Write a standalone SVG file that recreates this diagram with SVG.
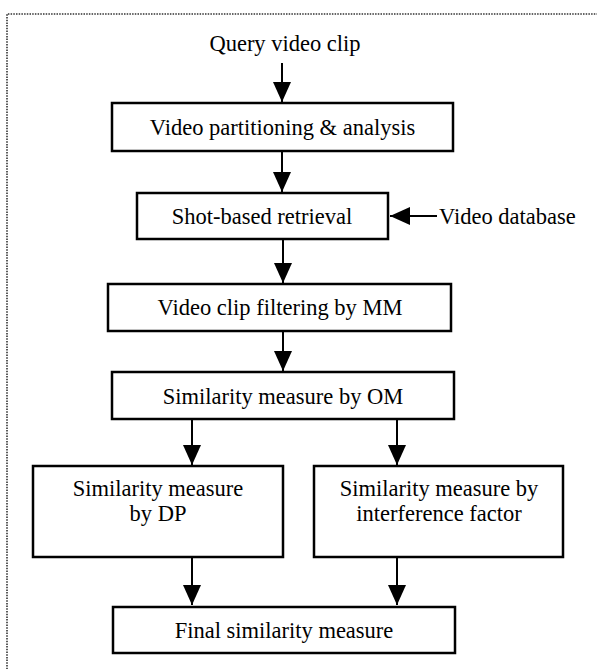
<svg xmlns="http://www.w3.org/2000/svg" width="597" height="669" viewBox="0 0 597 669">
<defs>
<style>
.box{fill:#fff;stroke:#000;stroke-width:2.5}
.t{font-family:"Liberation Serif","Times New Roman",serif;font-size:22.5px;fill:#000;text-anchor:middle}
.c{stroke:#000;stroke-width:2;fill:none;marker-end:url(#ah)}
.frame{fill:none;stroke:#333;stroke-width:1.6;stroke-dasharray:1.5 1.2}
</style>
<marker id="ah" markerUnits="userSpaceOnUse" markerWidth="20" markerHeight="18" refX="20" refY="9" orient="auto">
<path d="M0,0 L20,9 L0,18 z" fill="#000"/>
</marker>
</defs>
<rect width="597" height="669" fill="#fff"/>
<path class="frame" d="M7,680 L7,14 L600,14"/>
<g id="query"><text class="t" x="285" y="51">Query video clip</text></g>
<g id="n1"><rect class="box" x="112" y="103" width="341" height="48"/><text class="t" x="282.5" y="135">Video partitioning &amp; analysis</text></g>
<g id="n2"><rect class="box" x="137" y="193" width="251" height="46"/><text class="t" x="262" y="224">Shot-based retrieval</text></g>
<g id="db"><text class="t" x="439" y="224" style="text-anchor:start">Video database</text></g>
<g id="n3"><rect class="box" x="108" y="284" width="343" height="47"/><text class="t" x="280" y="315">Video clip filtering by MM</text></g>
<g id="n4"><rect class="box" x="112" y="372" width="342" height="47"/><text class="t" x="283" y="404">Similarity measure by OM</text></g>
<g id="n5"><rect class="box" x="33" y="466" width="250" height="91"/><text class="t" x="158" y="496">Similarity measure</text><text class="t" x="158" y="521">by DP</text></g>
<g id="n6"><rect class="box" x="314" y="466" width="249" height="91"/><text class="t" x="439" y="496">Similarity measure by</text><text class="t" x="439" y="521">interference factor</text></g>
<g id="n7"><rect class="box" x="113" y="607" width="342" height="46"/><text class="t" x="284" y="638">Final similarity measure</text></g>
<g id="connectors">
<line class="c" x1="282" y1="63" x2="282" y2="102"/>
<line class="c" x1="282" y1="151" x2="282" y2="192"/>
<line class="c" x1="437" y1="216" x2="390" y2="216"/>
<line class="c" x1="283" y1="239" x2="283" y2="283"/>
<line class="c" x1="283" y1="331" x2="283" y2="371"/>
<line class="c" x1="192" y1="419" x2="192" y2="465"/>
<line class="c" x1="397" y1="419" x2="397" y2="465"/>
<line class="c" x1="192" y1="557" x2="192" y2="605"/>
<line class="c" x1="397" y1="557" x2="397" y2="605"/>
</g>
</svg>
